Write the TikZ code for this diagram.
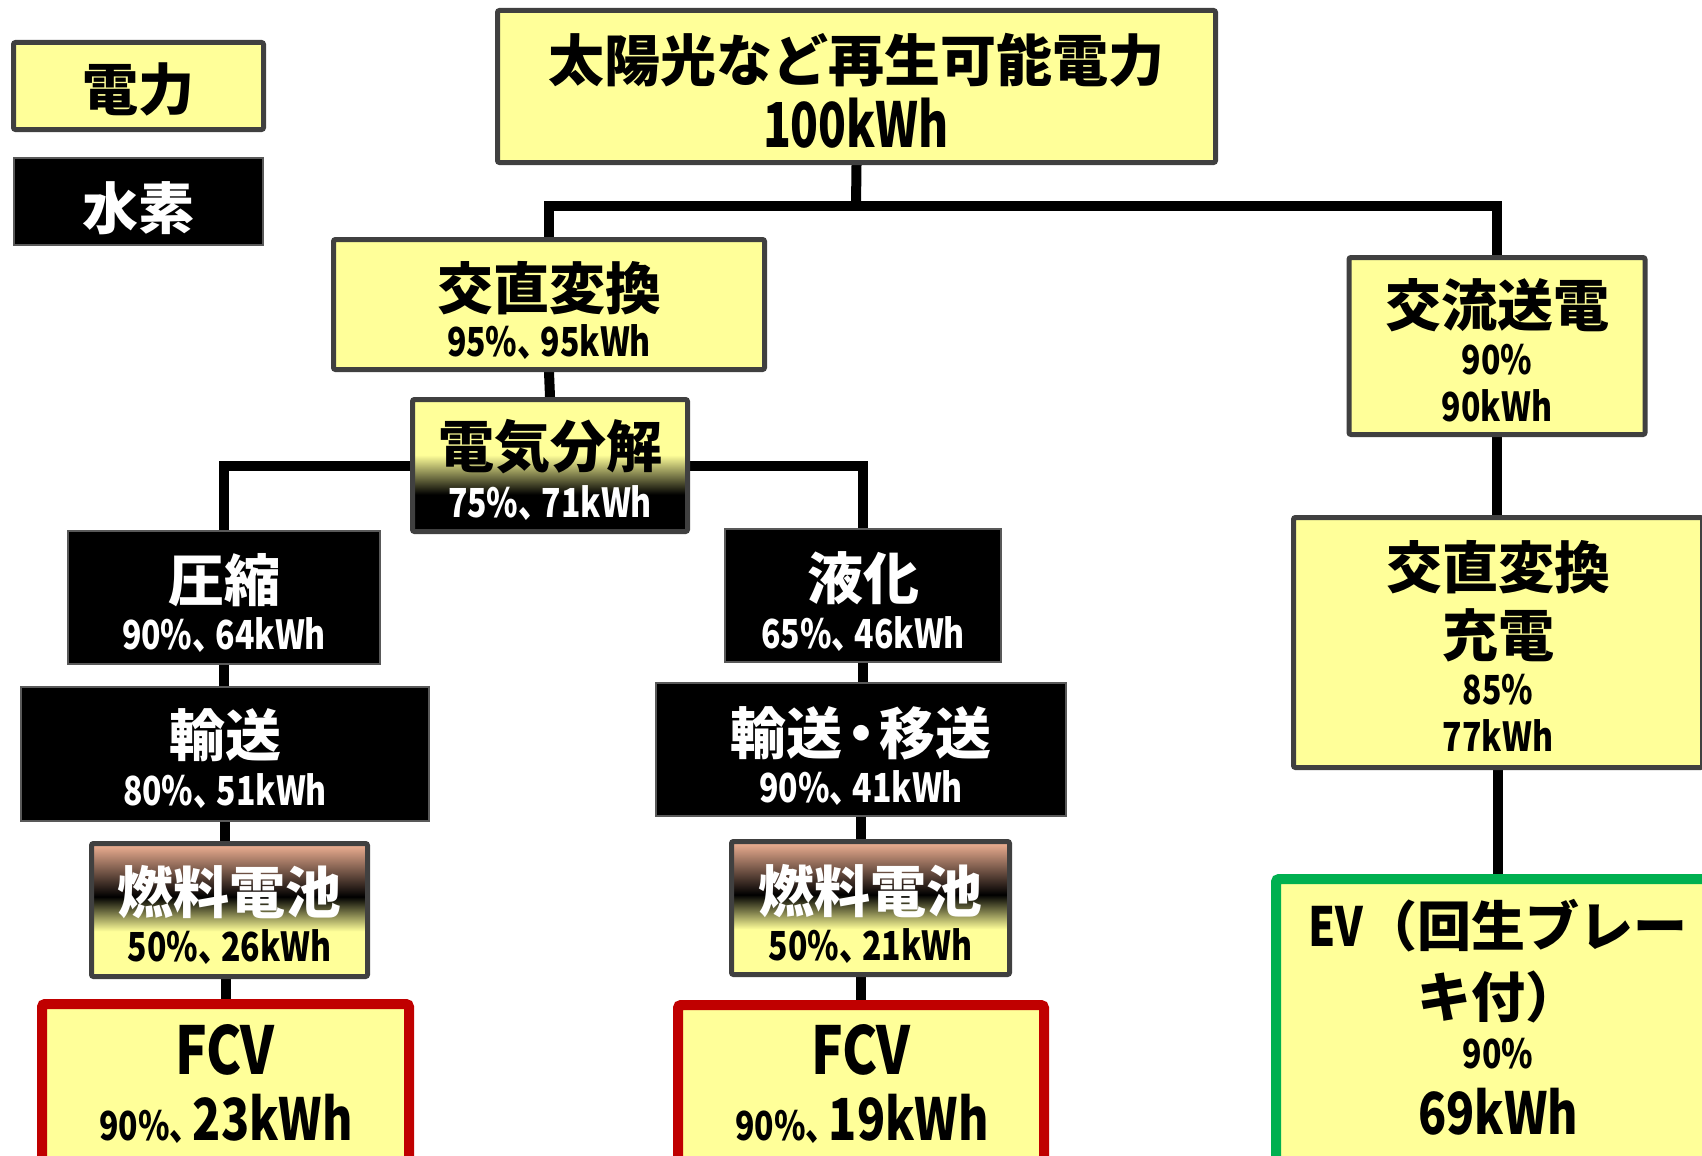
\documentclass[tikz,border=0pt]{standalone}
\usepackage{fontspec}
\setmainfont{Noto Sans CJK JP}
\newfontfamily\numfont{Noto Sans CJK JP}[FakeStretch=0.8]
\newfontfamily\bignumfont{Noto Sans CJK JP}[FakeStretch=0.74]
\newcommand\myfs[1]{\fontsize{#1}{#1}\selectfont}
\newcommand\tc{、\kern-0.22em}
\pgfdeclarelayer{bg}
\pgfsetlayers{bg,main}
\definecolor{ylw}{HTML}{FFFF99}
\definecolor{bdr}{HTML}{404040}
\definecolor{salmon}{HTML}{F4B496}
\definecolor{fcvred}{HTML}{C00000}
\definecolor{evgreen}{HTML}{00B050}
\pgfdeclareverticalshading{elecshade}{100bp}{color(0bp)=(black); color(25bp)=(black); color(39bp)=(black); color(54bp)=(ylw); color(75bp)=(ylw); color(100bp)=(ylw)}
\pgfdeclareverticalshading{fcshade}{100bp}{color(0bp)=(ylw); color(25bp)=(ylw); color(42bp)=(ylw); color(55bp)=(black); color(75bp)=(salmon); color(100bp)=(salmon)}
\tikzset{
  ybox/.style={draw=bdr, line width=5pt, fill=ylw, rounded corners=2pt, inner sep=0pt},
  kbox/.style={draw=black!65, line width=2pt, fill=black, inner sep=0pt},
  elbox/.style={draw=bdr, line width=5pt, shade, shading=elecshade, rounded corners=2pt, inner sep=0pt},
  fcbox/.style={draw=bdr, line width=5pt, shade, shading=fcshade, rounded corners=2pt, inner sep=0pt},
  fcvbox/.style={draw=fcvred, line width=10pt, fill=ylw, rounded corners=3pt, inner sep=0pt},
  evbox/.style={draw=evgreen, line width=10pt, fill=ylw, rounded corners=3pt, inner sep=0pt},
  conn/.style={line width=10pt, black},
  hd/.style={inner sep=0pt, font=\myfs{56}\bfseries},
  nm/.style={inner sep=0pt, font=\myfs{40}\numfont\bfseries},
  big/.style={inner sep=0pt, font=\myfs{62}\bignumfont\bfseries},
}
\begin{document}
\begin{tikzpicture}[x=1pt,y=-1pt]
\clip (0,0) rectangle (1702,1156);
% legend
\node[ybox, minimum width=250pt, minimum height=87pt] (lgE) at (138.5,86) {};
\node[hd] (lgEt) at (138,89) {電力};
\node[kbox, minimum width=249pt, minimum height=87pt] (lgH) at (138.5,201.5) {};
\node[hd, text=white] (lgHt) at (138,208) {水素};
% top
\node[ybox, minimum width=718pt, minimum height=152pt] (top) at (856.5,86.5) {};
\node[hd] (topa) at (856,60) {太陽光など再生可能電力};
\node[big] (topb) at (856,123) {100kWh};
\coordinate (j1) at (856,206);
% left DC chain
\node[ybox, minimum width=431pt, minimum height=130pt] (ac) at (549,304.5) {};
\node[hd] (aca) at (549,288) {交直変換};
\node[nm] (acb) at (549,342) {95\%\tc 95kWh};
\node[elbox, minimum width=275pt, minimum height=132pt] (ele) at (550,465.5) {};
\node[hd] (elea) at (550,447) {電気分解};
\node[nm, text=white] (eleb) at (550,503) {75\%\tc 71kWh};
% compression branch
\node[kbox, minimum width=312pt, minimum height=133pt] (comp) at (224,597.5) {};
\node[hd, text=white] (compa) at (224,580) {圧縮};
\node[nm, text=white] (compb) at (224,635) {90\%\tc 64kWh};
\node[kbox, minimum width=408pt, minimum height=134pt] (tra) at (225,754) {};
\node[hd, text=white] (traa) at (225,735) {輸送};
\node[nm, text=white] (trab) at (225,791) {80\%\tc 51kWh};
\node[fcbox, minimum width=276pt, minimum height=133pt] (fca) at (229.5,910) {};
\node[hd, text=white] (fcaa) at (229.5,892) {燃料電池};
\node[nm] (fcab) at (229.5,947) {50\%\tc 26kWh};
\node[fcvbox, minimum width=367pt, minimum height=166pt] (fcva) at (225.5,1087) {};
\node[nm, font=\myfs{66}\numfont\bfseries] (fcvaa) at (225,1050) {FCV};
\node[nm, font=\myfs{58}\numfont\bfseries] (fcvab) at (226,1119) {{\myfs{40}90\%\tc}23kWh};
% liquefaction branch
\node[kbox, minimum width=276pt, minimum height=133pt] (liq) at (863,595.5) {};
\node[hd, text=white] (liqa) at (863,578) {液化};
\node[nm, text=white] (liqb) at (863,634) {65\%\tc 46kWh};
\node[kbox, minimum width=410pt, minimum height=133pt] (trb) at (861,749.5) {};
\node[hd, text=white] (trba) at (861,733) {輸送\kern-0.17em・\kern-0.17em 移送};
\node[nm, text=white] (trbb) at (861,788) {90\%\tc 41kWh};
\node[fcbox, minimum width=278pt, minimum height=133pt] (fcb) at (870.5,908) {};
\node[hd, text=white] (fcba) at (870.5,891) {燃料電池};
\node[nm] (fcbb) at (870.5,946) {50\%\tc 21kWh};
\node[fcvbox, minimum width=366pt, minimum height=165pt] (fcvb) at (861,1087.5) {};
\node[nm, font=\myfs{66}\numfont\bfseries] (fcvba) at (861,1050) {FCV};
\node[nm, font=\myfs{58}\numfont\bfseries] (fcvbb) at (862,1119) {{\myfs{40}90\%\tc}19kWh};
% AC branch
\node[ybox, minimum width=296pt, minimum height=177pt] (acr) at (1497,346) {};
\node[hd] (acra) at (1497,305) {交流送電};
\node[nm] (acrb) at (1497,360) {90\%};
\node[nm] (acrc) at (1497,406) {90kWh};
\node[ybox, minimum width=409pt, minimum height=250pt] (acd) at (1498,642.5) {};
\node[hd] (acda) at (1498,567) {交直変換};
\node[hd] (acdb) at (1498,635) {充電};
\node[nm] (acdc) at (1498,690) {85\%};
\node[nm] (acdd) at (1498,736) {77kWh};
\node[evbox, minimum width=444pt, minimum height=286pt] (ev) at (1498,1022) {};
\node[hd, font=\myfs{54}\bfseries] (eva) at (1498,926) {{\numfont EV}（回生ブレー};
\node[hd, font=\myfs{54}\bfseries] (evb) at (1498,997) {キ付）};
\node[nm] (evc) at (1498,1054) {90\%};
\node[nm, font=\myfs{58}\numfont\bfseries] (evd) at (1498,1112) {69kWh};
% connectors
\begin{pgfonlayer}{bg}
\fill[white] (0,0) rectangle (1702,1156);
\draw[conn] (top.south) -- (j1);
\draw[conn] (ac.north) |- (acr.north |- j1) -- (acr.north);
\draw[conn] (ac.south) -- (ele.north);
\draw[conn] (comp.north) |- (ele.center) -| (liq.north);
\draw[conn] (comp.south) -- (comp.south |- tra.north);
\draw[conn] (tra.south) -- (tra.south |- fca.north);
\draw[conn] (fcva.north) -- (fcva.north |- fca.south);
\draw[conn] (liq.south) -- (liq.south |- trb.north);
\draw[conn] (trb.south) -- (trb.south |- fcb.north);
\draw[conn] (fcvb.north) -- (fcvb.north |- fcb.south);
\draw[conn] (acr.south) -- (acr.south |- acd.north);
\draw[conn] (acd.south) -- (ev.north);
\end{pgfonlayer}
\end{tikzpicture}
\end{document}
